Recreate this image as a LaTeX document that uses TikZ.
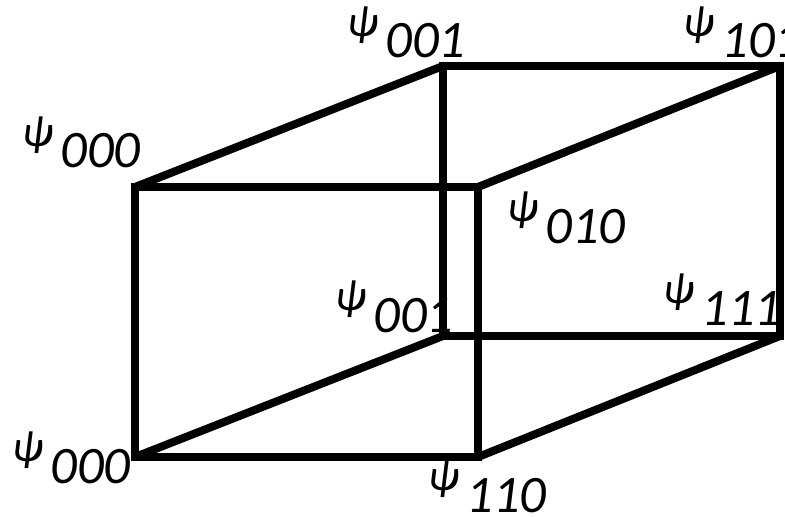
\documentclass[tikz,border=0pt]{standalone}
\usepackage{fontspec}
\setmainfont{Carlito}
\usetikzlibrary{positioning}

% state label: psi with large lowered index
\newcommand{\psilab}[1]{\raisebox{0.44cm}{\fontsize{25}{25}\selectfont\itshape ψ}\hspace{0.14cm}{\fontsize{30}{30}\selectfont\itshape #1}}

\begin{document}
\begin{tikzpicture}[
  x=0.02cm, y=-0.02cm,
  edge/.style={line width=0.16cm, black},
  lab/.style={inner sep=0pt, anchor=base west}
]
\useasboundingbox (0,0) rectangle (785,517);
% front face
\coordinate (f000) at (135,187);
\coordinate (f010) at (478,187);
\coordinate (f110) at (478,457);
\coordinate (f000b) at (135,457);
% back face
\coordinate (b001) at (443,66);
\coordinate (b101) at (780,66);
\coordinate (b111) at (780,336);
\coordinate (b001b) at (443,336);

\draw[edge] (b001) -- (b101) -- (b111) -- (b001b) -- cycle;
\draw[edge] (f000) -- (b001);
\draw[edge] (f010) -- (b101);
\draw[edge] (f110) -- (b111);
\draw[edge] (f000b) -- (b001b);
\draw[edge] (f000) -- (f010) -- (f110) -- (f000b) -- cycle;

\node[lab] (l000) at (22,168) {\psilab{000}};
\node[lab] (l001) at (347,58) {\psilab{001}};
\node[lab] (l101) at (683,58) {\psilab{101}};
\node[lab] (l010) at (507,243) {\psilab{010}};
\node[lab] (l001b) at (335,332) {\psilab{001}};
\node[lab] (l111) at (663,325) {\psilab{111}};
\node[lab] (l000b) at (12,483) {\psilab{000}};
\node[lab] (l110) at (428,512) {\psilab{110}};
\end{tikzpicture}
\end{document}
